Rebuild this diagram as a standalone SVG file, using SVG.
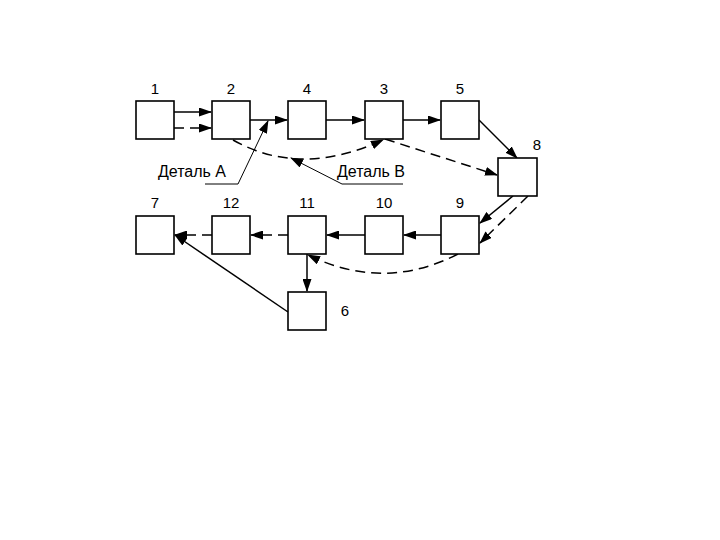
<svg xmlns="http://www.w3.org/2000/svg" width="720" height="540" viewBox="0 0 720 540">
<style>
.box{fill:#fff;stroke:#000;stroke-width:1.6}
.lbl{font-family:"Liberation Sans",Arial,sans-serif;font-size:15px;fill:#000;text-anchor:middle}
.txt{font-family:"Liberation Sans",Arial,sans-serif;font-size:16px;fill:#000}
.c{fill:none;stroke:#000;stroke-width:1.5}
.d{stroke-dasharray:10 6}
.thin{fill:none;stroke:#000;stroke-width:1}
</style>
<defs>
<marker id="ah" markerUnits="userSpaceOnUse" markerWidth="13" markerHeight="9" refX="12" refY="4.5" orient="auto">
<path d="M0,0 L13,4.5 L0,9 z" fill="#000"/>
</marker>
</defs>
<rect width="720" height="540" fill="#fff"/>
<g id="connectors">
<line class="c" x1="174" y1="112" x2="211" y2="112" marker-end="url(#ah)"/>
<line class="c d" x1="174" y1="128" x2="211" y2="128" marker-end="url(#ah)"/>
<line class="c" x1="250" y1="120" x2="287" y2="120" marker-end="url(#ah)"/>
<line class="c" x1="326" y1="120" x2="364" y2="120" marker-end="url(#ah)"/>
<line class="c" x1="403" y1="120" x2="440" y2="120" marker-end="url(#ah)"/>
<line class="c" x1="479" y1="120" x2="517" y2="158" marker-end="url(#ah)"/>
<line class="c d" x1="385" y1="139" x2="497" y2="175" marker-end="url(#ah)"/>
<path class="c d" d="M233,140 Q300,178 383,140" marker-end="url(#ah)"/>
<line class="c" x1="513" y1="196" x2="480" y2="223" marker-end="url(#ah)"/>
<line class="c d" x1="528" y1="196" x2="480" y2="243" marker-end="url(#ah)"/>
<line class="c" x1="441" y1="235" x2="404" y2="235" marker-end="url(#ah)"/>
<line class="c" x1="365" y1="235" x2="327" y2="235" marker-end="url(#ah)"/>
<line class="c d" x1="288" y1="235" x2="251" y2="235" marker-end="url(#ah)"/>
<line class="c d" x1="212" y1="235" x2="175" y2="235" marker-end="url(#ah)"/>
<path class="c d" d="M458,254 Q384,292 308,255" marker-end="url(#ah)"/>
<line class="c" x1="307" y1="254" x2="307" y2="291" marker-end="url(#ah)"/>
<line class="c" x1="288" y1="312" x2="175" y2="235" marker-end="url(#ah)"/>
<polyline class="thin" points="205,184 238,184 268,121" marker-end="url(#ah)"/>
<polyline class="thin" points="403,184 342,184 291,158" marker-end="url(#ah)"/>
</g>
<g id="n1"><rect class="box" x="136" y="101" width="38" height="38"/><text class="lbl" x="155" y="94">1</text></g>
<g id="n2"><rect class="box" x="212" y="101" width="38" height="38"/><text class="lbl" x="231" y="94">2</text></g>
<g id="n4"><rect class="box" x="288" y="101" width="38" height="38"/><text class="lbl" x="307" y="94">4</text></g>
<g id="n3"><rect class="box" x="365" y="101" width="38" height="38"/><text class="lbl" x="384" y="94">3</text></g>
<g id="n5"><rect class="box" x="441" y="101" width="38" height="38"/><text class="lbl" x="460" y="94">5</text></g>
<g id="n8"><rect class="box" x="498" y="158" width="39" height="38"/><text class="lbl" x="537" y="150">8</text></g>
<g id="n7"><rect class="box" x="136" y="216" width="38" height="38"/><text class="lbl" x="155" y="208">7</text></g>
<g id="n12"><rect class="box" x="212" y="216" width="38" height="38"/><text class="lbl" x="231" y="208">12</text></g>
<g id="n11"><rect class="box" x="288" y="216" width="38" height="38"/><text class="lbl" x="307" y="208">11</text></g>
<g id="n10"><rect class="box" x="365" y="216" width="38" height="38"/><text class="lbl" x="384" y="208">10</text></g>
<g id="n9"><rect class="box" x="441" y="216" width="38" height="38"/><text class="lbl" x="460" y="208">9</text></g>
<g id="n6"><rect class="box" x="288" y="292" width="38" height="38"/><text class="lbl" x="345" y="316">6</text></g>
<g id="detA"><text class="txt" x="158" y="177">Деталь А</text></g>
<g id="detB"><text class="txt" x="337" y="177">Деталь В</text></g>
</svg>
